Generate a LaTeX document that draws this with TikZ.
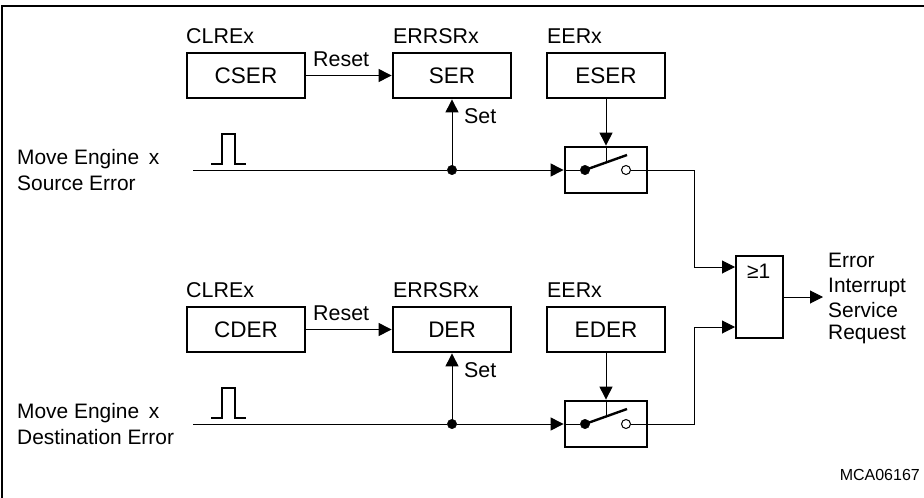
\documentclass[tikz,border=0pt]{standalone}
\usepackage{fontspec}
\setmainfont{Liberation Sans}
\usetikzlibrary{arrows.meta,calc}
\tikzset{
  x=1pt,y=-1pt,
  regbox/.style={draw,line width=2.8pt,minimum width=118pt,minimum height=45pt,inner sep=0pt,font=\fontsize{22.5}{26}\selectfont},
  swbox/.style={draw,line width=2.8pt,minimum width=82pt,minimum height=46pt,inner sep=0pt},
  lbl/.style={anchor=base west,inner sep=0pt,font=\fontsize{21.4}{25}\selectfont},
  sidelbl/.style={anchor=base west,inner sep=0pt,font=\fontsize{20.9}{25}\selectfont},
  wire/.style={line width=1pt},
  arr/.style={wire,-{Triangle[length=13pt,width=13pt]}},
  heavy/.style={line width=2.4pt},
  dotf/.style={circle,fill=black,draw=black,inner sep=0pt,minimum size=9.5pt},
  dotn/.style={circle,fill=white,draw=black,line width=1pt,inner sep=0pt,minimum size=9pt}
}
\begin{document}
\begin{tikzpicture}
\useasboundingbox (0,0) rectangle (924,498);
\coordinate (fa) at (2,498);
\coordinate (fb) at (2,6);
\coordinate (fc) at (924,6);
\draw[line width=1.4pt] (fa) -- (fb) -- (fc);
\foreach \o/\cn/\sn/\en/\tag in {0/CSER/SER/ESER/a,254/CDER/DER/EDER/b}{
  \node[regbox] (c\tag) at (246,75.5+\o) {\cn};
  \node[regbox] (s\tag) at (452,75.5+\o) {\sn};
  \node[regbox] (e\tag) at (606,75.5+\o) {\en};
  \node[lbl] at (186,43.5+\o) {CLREx};
  \node[lbl] at (393,43.5+\o) {ERRSRx};
  \node[lbl] at (547,43.5+\o) {EERx};
  \node[lbl] at (313,66+\o) {Reset};
  \node[lbl] at (464,123.5+\o) {Set};
  \node[swbox] (w\tag) at (606,170+\o) {};
  \coordinate (in\tag) at (193,170+\o);
  \node[dotf] (j\tag) at (452,170+\o) {};
  \node[dotf] (p\tag) at (585,170+\o) {};
  \node[dotn] (q\tag) at (626,170+\o) {};
  \coordinate (lev\tag) at (627,155+\o);
  \coordinate (st\tag) at (606,163+\o);
  \draw[arr] (c\tag.east) -- (s\tag.west);
  \draw[arr] (j\tag.center) -- (s\tag.south);
  \draw[arr] (e\tag.south) -- (w\tag.north);
  \draw[wire] (in\tag) -- (j\tag);
  \draw[arr] (j\tag) -- (w\tag.west);
  \draw[wire] (w\tag.west) -- (p\tag);
  \draw[wire] (w\tag.north) -- (st\tag);
  \draw[heavy] (p\tag.center) -- (lev\tag);
  \draw[wire] (q\tag) -- (w\tag.east);
  \draw[heavy,line join=miter] (211,164+\o) -- (222,164+\o) -- (222,134+\o) -- (235,134+\o) -- (235,164+\o) -- (246,164+\o);
}
\node[draw,line width=2.8pt,minimum width=47pt,minimum height=82pt,inner sep=0pt] (or) at (759.5,297) {};
\node[anchor=base west,inner sep=0pt,font=\fontsize{21}{25}\selectfont] at (747,278) {≥1};
\coordinate (ua) at (694,170);
\coordinate (ub) at (694,267);
\coordinate (ia) at (735,267);
\coordinate (la) at (694,424);
\coordinate (lb) at (694,327);
\coordinate (ib) at (735,327);
\coordinate (out) at (823,297);
\draw[wire] (wa.east) -- (ua) -- (ub);
\draw[arr] (ub) -- (ia);
\draw[wire] (wb.east) -- (la) -- (lb);
\draw[arr] (lb) -- (ib);
\draw[arr] (or.east) -- (out);
\node[sidelbl] at (828,267) {Error};
\node[sidelbl] at (828,292) {Interrupt};
\node[sidelbl] at (828,317) {Service};
\node[sidelbl] at (828,339) {Request};
\node[sidelbl] at (17,164) {Move Engine\hspace{4pt} x};
\node[sidelbl] at (17,190) {Source Error};
\node[sidelbl] at (17,418) {Move Engine\hspace{4pt} x};
\node[sidelbl] at (17,444) {Destination Error};
\node[anchor=base east,inner sep=0pt,font=\fontsize{16}{19}\selectfont] at (920,480) {MCA06167};
\end{tikzpicture}
\end{document}
